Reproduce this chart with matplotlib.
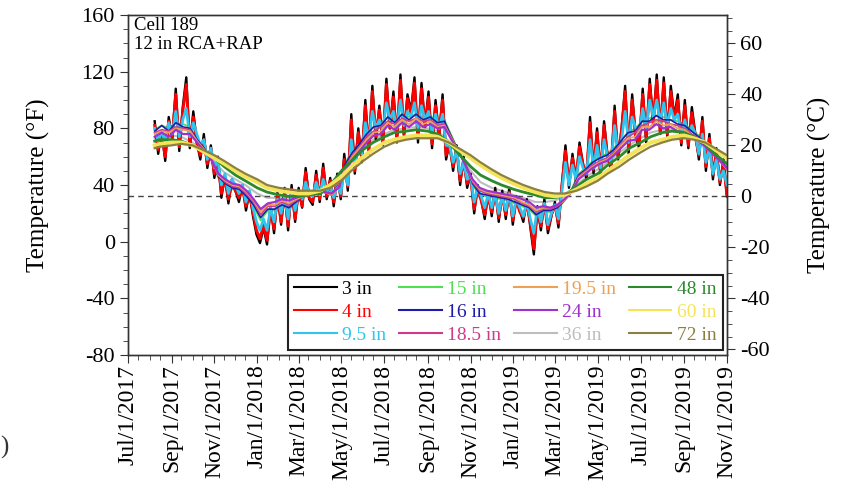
import matplotlib
matplotlib.use('Agg')
import matplotlib.pyplot as plt
import matplotlib.dates as mdates
from matplotlib.lines import Line2D
from matplotlib.ticker import MultipleLocator, FuncFormatter
import pandas as pd

plt.rcParams['font.family'] = ['Liberation Serif', 'DejaVu Serif']
plt.rcParams['axes.unicode_minus'] = False

# sampling grids used by the sensor records
days5 = pd.date_range('2017-08-08', '2019-11-01', freq='5D')          # shallow sensors
days10 = pd.date_range('2017-08-08', '2019-11-01', periods=82)        # mid-depth sensors
half_month = pd.DatetimeIndex(['2017-08-08']).append(
    pd.date_range('2017-08-15', '2019-11-01', freq='SMS'))            # deep sensors

# temperatures in deg F
t3 = [85, 62, 78, 57, 88, 72, 108, 64, 95, 116,
      66, 92, 70, 58, 76, 52, 68, 45, 60, 31,
      47, 27, 44, 36, 28, 40, 22, 35, 18, 5,
      -1, 10, -2, 25, 6, 35, 12, 38, 8, 40,
      14, 38, 24, 52, 30, 26, 50, 28, 55, 30,
      45, 25, 48, 30, 62, 36, 90, 48, 80, 56,
      100, 62, 110, 72, 96, 68, 115, 80, 106, 70,
      118, 74, 104, 92, 116, 70, 112, 82, 106, 66,
      100, 74, 104, 58, 70, 50, 68, 40, 60, 38,
      48, 20, 40, 30, 16, 35, 18, 38, 14, 36,
      16, 38, 12, 32, 22, 14, 30, 10, -9, 25,
      8, 30, 6, 18, 28, 10, 40, 68, 38, 62,
      42, 70, 55, 44, 88, 48, 80, 46, 85, 60,
      50, 96, 58, 80, 110, 62, 104, 74, 66, 108,
      70, 115, 84, 118, 76, 116, 74, 110, 88, 104,
      68, 100, 66, 95, 76, 58, 88, 50, 76, 44,
      66, 40, 58, 32]
t4 = [82, 65, 76, 60, 85, 73, 104, 67, 92, 111,
      69, 88, 70, 61, 72, 55, 66, 48, 57, 34,
      45, 30, 41, 36, 31, 38, 25, 33, 21, 8,
      2, 12, 1, 23, 9, 32, 14, 35, 11, 37,
      16, 36, 25, 49, 31, 28, 47, 30, 52, 32,
      43, 28, 45, 32, 58, 39, 86, 50, 77, 58,
      96, 65, 106, 74, 93, 70, 111, 80, 102, 73,
      114, 76, 101, 90, 112, 73, 108, 81, 102, 69,
      96, 75, 100, 61, 67, 53, 65, 43, 57, 41,
      45, 23, 37, 29, 19, 32, 21, 35, 17, 33,
      19, 35, 15, 29, 21, 17, 27, 13, -5, 22,
      11, 27, 9, 19, 26, 13, 40, 64, 41, 59,
      45, 67, 54, 47, 84, 51, 77, 49, 82, 59,
      53, 92, 60, 79, 106, 65, 100, 74, 69, 104,
      73, 111, 83, 114, 77, 112, 76, 106, 86, 100,
      70, 96, 68, 91, 74, 61, 85, 53, 73, 47,
      63, 42, 55, 33]
t9_5 = [80, 71, 78, 70, 84, 76, 92, 74, 86, 94,
        74, 84, 76, 68, 72, 58, 66, 52, 58, 40,
        48, 34, 44, 40, 34, 40, 28, 36, 24, 14,
        8, 16, 8, 24, 14, 30, 20, 32, 16, 33,
        22, 34, 30, 42, 34, 32, 42, 33, 44, 35,
        40, 31, 40, 34, 50, 40, 72, 54, 68, 62,
        84, 72, 92, 80, 86, 78, 98, 86, 92, 80,
        100, 82, 92, 88, 98, 80, 96, 86, 92, 76,
        90, 80, 90, 68, 68, 56, 64, 48, 56, 44,
        46, 28, 38, 32, 24, 34, 24, 34, 20, 32,
        22, 34, 18, 30, 24, 18, 28, 16, 6, 24,
        14, 27, 12, 20, 26, 16, 36, 56, 40, 54,
        44, 60, 52, 48, 72, 52, 68, 52, 72, 60,
        56, 82, 64, 72, 92, 70, 88, 80, 76, 94,
        80, 100, 88, 100, 84, 98, 82, 94, 86, 90,
        76, 86, 74, 82, 76, 62, 76, 56, 66, 48,
        58, 44, 50, 40]
t15 = [79, 82, 80, 84, 83, 81, 72, 66, 58, 45,
       40, 37, 36, 31, 25, 15, 22, 22, 25, 23,
       27, 32, 33, 35, 35, 33, 41, 56, 64, 70,
       77, 81, 84, 88, 86, 90, 88, 90, 88, 89,
       85, 86, 75, 64, 54, 40, 33, 32, 31, 30,
       29, 27, 25, 23, 18, 21, 21, 23, 29, 37,
       48, 52, 57, 60, 62, 66, 72, 77, 80, 85,
       87, 89, 88, 86, 85, 83, 79, 75, 69, 63,
       57, 51]
t16 = [78, 82, 78, 84, 81, 80, 72, 66, 58, 46,
       41, 38, 37, 32, 26, 17, 23, 23, 26, 24,
       28, 32, 33, 35, 35, 33, 40, 55, 63, 69,
       76, 81, 82, 88, 84, 90, 86, 90, 86, 88,
       84, 85, 74, 64, 54, 41, 34, 33, 32, 31,
       30, 28, 26, 24, 19, 22, 22, 24, 29, 36,
       47, 51, 56, 59, 61, 65, 71, 77, 78, 85,
       85, 89, 86, 86, 83, 82, 78, 74, 69, 63,
       57, 51]
t18_5 = [77, 79, 78, 81, 80, 79, 71, 65, 58, 47,
         42, 39, 38, 34, 28, 19, 25, 25, 28, 26,
         29, 32, 33, 35, 35, 33, 39, 53, 61, 67,
         74, 78, 81, 85, 83, 87, 85, 87, 85, 86,
         82, 83, 73, 64, 54, 42, 36, 34, 33, 32,
         31, 30, 27, 25, 21, 23, 23, 25, 29, 35,
         46, 50, 54, 57, 59, 63, 69, 74, 77, 82,
         84, 86, 85, 83, 82, 80, 76, 73, 68, 62,
         57, 51]
t19_5 = [76, 78, 77, 80, 79, 78, 71, 65, 58, 47,
         43, 40, 39, 35, 29, 21, 26, 26, 29, 27,
         30, 32, 33, 35, 35, 33, 39, 52, 60, 66,
         72, 77, 78, 84, 81, 86, 83, 87, 83, 85,
         81, 82, 73, 64, 54, 43, 37, 35, 34, 33,
         32, 31, 28, 26, 22, 24, 24, 26, 29, 35,
         45, 49, 53, 56, 58, 62, 68, 73, 74, 81,
         81, 85, 82, 83, 80, 79, 75, 72, 68, 62,
         57, 51]
t24 = [74, 77, 74, 79, 76, 76, 70, 64, 58, 48,
       44, 41, 40, 36, 30, 23, 27, 28, 30, 29,
       31, 33, 34, 35, 35, 34, 38, 50, 58, 64,
       70, 75, 76, 82, 79, 84, 81, 85, 81, 83,
       80, 81, 72, 64, 54, 44, 38, 36, 35, 34,
       33, 32, 30, 28, 24, 25, 24, 26, 30, 35,
       44, 48, 52, 55, 57, 61, 66, 71, 72, 79,
       79, 83, 80, 81, 78, 77, 74, 71, 67, 62,
       57, 52]
t36 = [73, 74, 75, 74, 70, 64, 56, 49, 44, 40,
       34, 31, 31, 31, 32, 33, 34, 37, 48, 57, 66, 72, 76, 79,
       80, 81, 80, 78, 71, 62, 50, 42, 38, 36,
       33, 31, 28, 28, 29, 32, 40, 46, 51, 56, 63, 68, 73, 77,
       79, 79, 77, 73, 67, 60, 53]
t48 = [71, 72, 72, 71, 68, 64, 59, 53, 47, 43,
       38, 35, 33, 32, 32, 33, 34, 40, 50, 57, 65, 70, 74, 77,
       78, 79, 78, 76, 70, 62, 53, 47, 43, 40,
       37, 35, 33, 31, 31, 33, 39, 44, 48, 54, 60, 66, 70, 74,
       77, 78, 77, 74, 69, 62, 55]
t60 = [68, 69, 70, 70, 68, 64, 59, 55, 50, 46,
       42, 38, 36, 35, 34, 34, 36, 40, 46, 53, 60, 65, 70, 72,
       74, 75, 75, 74, 70, 65, 59, 54, 49, 45,
       41, 38, 35, 33, 32, 33, 37, 41, 45, 50, 56, 61, 66, 70,
       72, 74, 75, 73, 70, 65, 59]
t72 = [66, 67, 68, 69, 68, 65, 61, 57, 52, 48,
       44, 40, 38, 37, 36, 36, 36, 38, 43, 50, 57, 62, 67, 70,
       72, 73, 73, 73, 70, 66, 61, 56, 51, 47,
       43, 40, 37, 35, 34, 34, 36, 39, 43, 48, 53, 58, 63, 67,
       70, 72, 73, 72, 70, 66, 61]

depth_labels = ['3 in', '4 in', '9.5 in', '15 in', '16 in', '18.5 in',
                '19.5 in', '24 in', '36 in', '48 in', '60 in', '72 in']
freezing_f = 32

# (dates, temps, colour, linewidth, zorder) in legend order
series = [
    (days5, t3, 'black', 1.7, 3),
    (days5, t4, '#FF0000', 2.1, 4),
    (days5, t9_5, '#2EC6EE', 2.0, 5),
    (days10, t15, '#4FE04F', 1.3, 1),
    (days10, t16, '#1C1CA8', 1.2, 6),
    (days10, t18_5, '#CC3C8A', 1.3, 7),
    (days10, t19_5, '#EFA052', 1.3, 8),
    (days10, t24, '#A030D0', 1.6, 9),
    (half_month, t36, '#BDBDBD', 1.5, 2),
    (half_month, t48, '#2C8A2C', 2.0, 10),
    (half_month, t60, '#F4E45A', 2.8, 11),
    (half_month, t72, '#8C8040', 1.6, 12),
]


def f_to_c(f):
    return (f - 32) / 1.8


def date_label(x, pos):
    d = mdates.num2date(x)
    return '%s/%d/%d' % (d.strftime('%b'), d.day, d.year)


fig = plt.figure(figsize=(8.41, 4.84), dpi=100)
ax = fig.add_axes([0.1522, 0.2665, 0.7122, 0.7025])

handles = []
for (dates, temps, color, lw, z), label in zip(series, depth_labels):
    ax.plot(dates, temps, color=color, linewidth=lw, zorder=z)
    handles.append(Line2D([], [], color=color, linewidth=1.5, label=label))

ax.axhline(freezing_f, color='#444444', linestyle=(0, (4, 3)), linewidth=1.0, zorder=2.5)

# axes limits and ticks
ax.set_xlim(pd.Timestamp('2017-07-01'), pd.Timestamp('2019-11-01'))
ax.set_ylim(-80, 160)
ax.yaxis.set_major_locator(MultipleLocator(40))
ax.yaxis.set_minor_locator(MultipleLocator(10))
ax.xaxis.set_major_locator(mdates.MonthLocator(bymonth=[1, 3, 5, 7, 9, 11]))
ax.xaxis.set_minor_locator(mdates.DayLocator(bymonthday=[1, 15]))
ax.xaxis.set_major_formatter(FuncFormatter(date_label))
ax.tick_params(axis='both', which='major', direction='out', length=6, labelsize=16,
               color='#333333')
ax.tick_params(axis='both', which='minor', direction='out', length=3.5, color='#333333')
ax.tick_params(axis='x', which='major', labelrotation=90, labelsize=17, pad=1)
ax.set_ylabel('Temperature (°F)', fontsize=18)
ax.yaxis.set_label_coords(-0.13, 0.5)

# Celsius scale on the right
ax2 = ax.twinx()
ax2.set_ylim(f_to_c(-80), f_to_c(160))
ax2.yaxis.set_major_locator(MultipleLocator(20))
ax2.yaxis.set_minor_locator(MultipleLocator(5))
ax2.tick_params(which='major', direction='out', length=6, labelsize=16, color='#333333')
ax2.tick_params(which='minor', direction='out', length=3.5, color='#333333')
ax2.set_ylabel('Temperature (°C)', fontsize=18)
ax2.yaxis.set_label_coords(1.135, 0.5)

for a in (ax, ax2):
    for sp in a.spines.values():
        sp.set_color('#333333')
        sp.set_linewidth(1.0)

ax.text(0.01, 0.994, 'Cell 189\n12 in RCA+RAP', transform=ax.transAxes,
        ha='left', va='top', fontsize=13.5, linespacing=1.15, zorder=20)

leg = ax.legend(handles=handles, loc='lower left',
                bbox_to_anchor=(0.267, 0.015, 0.726, 0.229), mode='expand',
                borderaxespad=0, ncol=4, labelcolor='linecolor', fontsize=14,
                frameon=True, fancybox=False, edgecolor='#222222', framealpha=1,
                borderpad=0.3, handlelength=2.2, handletextpad=0.3,
                labelspacing=0.28, columnspacing=0.8)
leg.get_frame().set_linewidth(1.5)
leg.set_zorder(30)

fig.text(0.0, 0.076, ')', fontsize=18, color='#333333', ha='left', va='center')

fig.savefig('out.png', dpi=100)
